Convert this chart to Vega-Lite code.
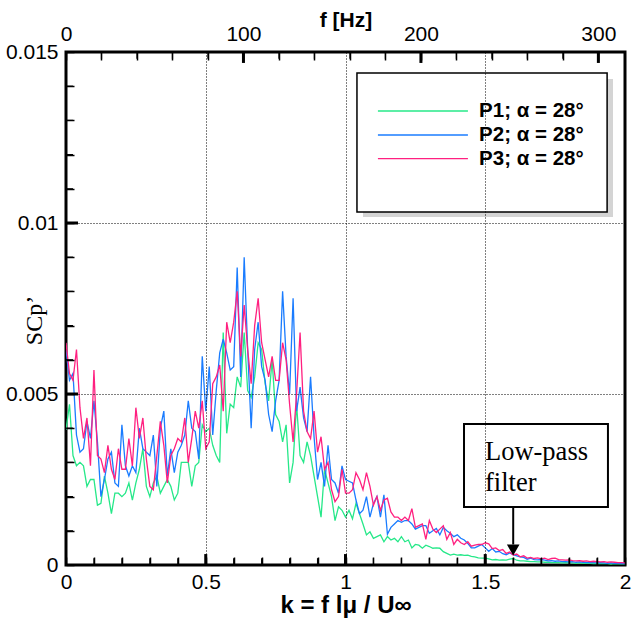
{
"$schema": "https://vega.github.io/schema/vega-lite/v6.json",
"width": 559, "height": 513,
"autosize": {"type": "none"},
"padding": {"left": 66, "top": 52, "right": 7, "bottom": 65},
"background": "white",
"config": {"view": {"stroke": "black", "strokeWidth": 3}, "font": "Liberation Sans",
  "axis": {"labelFont": "Liberation Sans", "labelFontSize": 21, "labelColor": "black", "domainColor": "black", "titleColor": "black", "labelFlush": false, "labelOverlap": false}},
"datasets": {
"spec": [
{"k":0,"P1":0.00395,"P2":0.0063,"P3":0.0065},
{"k":0.0125,"P1":0.0047,"P2":0.0054,"P3":0.0056},
{"k":0.025,"P1":0.0032,"P2":0.0056,"P3":0.0054},
{"k":0.0375,"P1":0.0029,"P2":0.0038,"P3":0.0063},
{"k":0.05,"P1":0.003,"P2":0.0033,"P3":0.0046},
{"k":0.0625,"P1":0.0029,"P2":0.0034,"P3":0.0037},
{"k":0.075,"P1":0.0023,"P2":0.0042,"P3":0.0043},
{"k":0.0875,"P1":0.0025,"P2":0.0037,"P3":0.0029},
{"k":0.1,"P1":0.0025,"P2":0.0048,"P3":0.0057},
{"k":0.1125,"P1":0.00175,"P2":0.0036,"P3":0.0032},
{"k":0.125,"P1":0.0018,"P2":0.002,"P3":0.0031},
{"k":0.1375,"P1":0.0026,"P2":0.0025,"P3":0.0027},
{"k":0.15,"P1":0.0021,"P2":0.0031,"P3":0.0035},
{"k":0.1625,"P1":0.0015,"P2":0.0033,"P3":0.0028},
{"k":0.175,"P1":0.0021,"P2":0.0024,"P3":0.0025},
{"k":0.1875,"P1":0.0021,"P2":0.0023,"P3":0.0034},
{"k":0.2,"P1":0.002,"P2":0.0041,"P3":0.0028},
{"k":0.2125,"P1":0.0021,"P2":0.0029,"P3":0.0028},
{"k":0.225,"P1":0.0024,"P2":0.0026,"P3":0.0037},
{"k":0.2375,"P1":0.0019,"P2":0.0029,"P3":0.0029},
{"k":0.25,"P1":0.0024,"P2":0.0027,"P3":0.0046},
{"k":0.2625,"P1":0.0028,"P2":0.004,"P3":0.0037},
{"k":0.275,"P1":0.0034,"P2":0.0034,"P3":0.0043},
{"k":0.2875,"P1":0.0023,"P2":0.0033,"P3":0.0031},
{"k":0.3,"P1":0.002,"P2":0.0032,"P3":0.0023},
{"k":0.3125,"P1":0.0024,"P2":0.0038,"P3":0.0022},
{"k":0.325,"P1":0.0026,"P2":0.0023,"P3":0.0032},
{"k":0.3375,"P1":0.0021,"P2":0.004,"P3":0.0042},
{"k":0.35,"P1":0.0023,"P2":0.0045,"P3":0.0035},
{"k":0.3625,"P1":0.0025,"P2":0.0026,"P3":0.0024},
{"k":0.375,"P1":0.0023,"P2":0.0034,"P3":0.0032},
{"k":0.3875,"P1":0.0019,"P2":0.0027,"P3":0.0034},
{"k":0.4,"P1":0.0021,"P2":0.0033,"P3":0.0037},
{"k":0.4125,"P1":0.003,"P2":0.0035,"P3":0.0036},
{"k":0.425,"P1":0.003,"P2":0.0038,"P3":0.0043},
{"k":0.4375,"P1":0.003,"P2":0.0048,"P3":0.003},
{"k":0.45,"P1":0.0023,"P2":0.004,"P3":0.0037},
{"k":0.4625,"P1":0.0029,"P2":0.0039,"P3":0.0045},
{"k":0.475,"P1":0.003,"P2":0.0031,"P3":0.004},
{"k":0.4875,"P1":0.0041,"P2":0.0061,"P3":0.0048},
{"k":0.5,"P1":0.0039,"P2":0.0045,"P3":0.0034},
{"k":0.5125,"P1":0.004,"P2":0.0058,"P3":0.0036},
{"k":0.525,"P1":0.0035,"P2":0.0038,"P3":0.0053},
{"k":0.5375,"P1":0.0032,"P2":0.0051,"P3":0.0055},
{"k":0.55,"P1":0.003,"P2":0.0062,"P3":0.00585},
{"k":0.5625,"P1":0.0068,"P2":0.0066,"P3":0.0045},
{"k":0.575,"P1":0.00385,"P2":0.0062,"P3":0.0071},
{"k":0.5875,"P1":0.0047,"P2":0.0057,"P3":0.0065},
{"k":0.6,"P1":0.0046,"P2":0.0058,"P3":0.0071},
{"k":0.6125,"P1":0.0055,"P2":0.0087,"P3":0.008},
{"k":0.625,"P1":0.0052,"P2":0.0055,"P3":0.0061},
{"k":0.6375,"P1":0.0068,"P2":0.009,"P3":0.0076},
{"k":0.65,"P1":0.0051,"P2":0.0063,"P3":0.0063},
{"k":0.6625,"P1":0.0049,"P2":0.004,"P3":0.0053},
{"k":0.675,"P1":0.0055,"P2":0.0063,"P3":0.007},
{"k":0.6875,"P1":0.0065,"P2":0.0071,"P3":0.0078},
{"k":0.7,"P1":0.0063,"P2":0.0058,"P3":0.0065},
{"k":0.7125,"P1":0.0053,"P2":0.0054,"P3":0.006},
{"k":0.725,"P1":0.0048,"P2":0.0044,"P3":0.0055},
{"k":0.7375,"P1":0.006,"P2":0.0039,"P3":0.0061},
{"k":0.75,"P1":0.0044,"P2":0.0048,"P3":0.0054},
{"k":0.7625,"P1":0.0042,"P2":0.0054,"P3":0.0054},
{"k":0.775,"P1":0.0036,"P2":0.008,"P3":0.0065},
{"k":0.7875,"P1":0.0041,"P2":0.0061,"P3":0.006},
{"k":0.8,"P1":0.0024,"P2":0.005,"P3":0.0047},
{"k":0.8125,"P1":0.003,"P2":0.0078,"P3":0.0036},
{"k":0.825,"P1":0.0047,"P2":0.0045,"P3":0.005},
{"k":0.8375,"P1":0.0032,"P2":0.0052,"P3":0.0068},
{"k":0.85,"P1":0.003,"P2":0.0043,"P3":0.0045},
{"k":0.8625,"P1":0.0036,"P2":0.0039,"P3":0.0039},
{"k":0.875,"P1":0.0032,"P2":0.0055,"P3":0.0037},
{"k":0.8875,"P1":0.0026,"P2":0.00375,"P3":0.0045},
{"k":0.9,"P1":0.002,"P2":0.0025,"P3":0.0033},
{"k":0.9125,"P1":0.0014,"P2":0.003,"P3":0.00375},
{"k":0.925,"P1":0.0028,"P2":0.0023,"P3":0.0028},
{"k":0.9375,"P1":0.0024,"P2":0.0035,"P3":0.003},
{"k":0.95,"P1":0.002,"P2":0.0025,"P3":0.0022},
{"k":0.9625,"P1":0.0013,"P2":0.0024,"P3":0.00185},
{"k":0.975,"P1":0.0017,"P2":0.0021,"P3":0.002},
{"k":0.9875,"P1":0.0016,"P2":0.0029,"P3":0.0028},
{"k":1,"P1":0.0014,"P2":0.0025,"P3":0.0021},
{"k":1.0125,"P1":0.0016,"P2":0.00245,"P3":0.0021},
{"k":1.025,"P1":0.00135,"P2":0.0024,"P3":0.0022},
{"k":1.0375,"P1":0.0018,"P2":0.0019,"P3":0.0027},
{"k":1.05,"P1":0.0015,"P2":0.0015,"P3":0.0025},
{"k":1.0625,"P1":0.0012,"P2":0.0016,"P3":0.0022},
{"k":1.075,"P1":0.00088,"P2":0.002,"P3":0.0027},
{"k":1.0875,"P1":0.00097,"P2":0.0014,"P3":0.0023},
{"k":1.1,"P1":0.00078,"P2":0.0018,"P3":0.00175},
{"k":1.1125,"P1":0.00083,"P2":0.002,"P3":0.002},
{"k":1.125,"P1":0.00088,"P2":0.0014,"P3":0.0016},
{"k":1.1375,"P1":0.00068,"P2":0.00205,"P3":0.0019},
{"k":1.15,"P1":0.00083,"P2":0.0009,"P3":0.00195},
{"k":1.1625,"P1":0.00073,"P2":0.0011,"P3":0.00155},
{"k":1.175,"P1":0.00078,"P2":0.0012,"P3":0.0014},
{"k":1.1875,"P1":0.00068,"P2":0.0013,"P3":0.0014},
{"k":1.2,"P1":0.00083,"P2":0.00125,"P3":0.0013},
{"k":1.2125,"P1":0.00068,"P2":0.0013,"P3":0.0014},
{"k":1.225,"P1":0.00073,"P2":0.0013,"P3":0.0013},
{"k":1.2375,"P1":0.0005,"P2":0.0012,"P3":0.00165},
{"k":1.25,"P1":0.0006,"P2":0.00105,"P3":0.0011},
{"k":1.2625,"P1":0.00058,"P2":0.0011,"P3":0.00115},
{"k":1.275,"P1":0.00049,"P2":0.00115,"P3":0.0012},
{"k":1.2875,"P1":0.00058,"P2":0.00115,"P3":0.00075},
{"k":1.3,"P1":0.00054,"P2":0.00093,"P3":0.0013},
{"k":1.3125,"P1":0.00049,"P2":0.001,"P3":0.00105},
{"k":1.325,"P1":0.0005,"P2":0.00107,"P3":0.00095},
{"k":1.3375,"P1":0.00049,"P2":0.00088,"P3":0.00105},
{"k":1.35,"P1":0.00039,"P2":0.0011,"P3":0.00115},
{"k":1.3625,"P1":0.00034,"P2":0.001,"P3":0.00075},
{"k":1.375,"P1":0.00029,"P2":0.00093,"P3":0.00095},
{"k":1.3875,"P1":0.00032,"P2":0.00083,"P3":0.0006},
{"k":1.4,"P1":0.00029,"P2":0.00088,"P3":0.00075},
{"k":1.4125,"P1":0.0003,"P2":0.00078,"P3":0.00065},
{"k":1.425,"P1":0.00028,"P2":0.00073,"P3":0.0006},
{"k":1.4375,"P1":0.00029,"P2":0.00063,"P3":0.00068},
{"k":1.45,"P1":0.00025,"P2":0.0005,"P3":0.00055},
{"k":1.4625,"P1":0.00024,"P2":0.0005,"P3":0.00058},
{"k":1.475,"P1":0.00021,"P2":0.00055,"P3":0.0006},
{"k":1.4875,"P1":0.0002,"P2":0.0006,"P3":0.0006},
{"k":1.5,"P1":0.0002,"P2":0.0005,"P3":0.00065},
{"k":1.5125,"P1":0.00018,"P2":0.0004,"P3":0.00062},
{"k":1.525,"P1":0.00015,"P2":0.00048,"P3":0.00048},
{"k":1.5375,"P1":0.00016,"P2":0.00038,"P3":0.0005},
{"k":1.55,"P1":0.00014,"P2":0.0004,"P3":0.00042},
{"k":1.5625,"P1":0.00015,"P2":0.00033,"P3":0.00045},
{"k":1.575,"P1":0.00014,"P2":0.0003,"P3":0.00034},
{"k":1.5875,"P1":0.00017,"P2":0.00035,"P3":0.00038},
{"k":1.6,"P1":0.00019,"P2":0.0003,"P3":0.00029},
{"k":1.6125,"P1":0.00014,"P2":0.00027,"P3":0.00032},
{"k":1.625,"P1":0.00012,"P2":0.00024,"P3":0.00024},
{"k":1.6375,"P1":0.00012,"P2":0.00022,"P3":0.00027},
{"k":1.65,"P1":0.00011,"P2":0.00017,"P3":0.0002},
{"k":1.6625,"P1":0.0001,"P2":0.0002,"P3":0.00022},
{"k":1.675,"P1":0.0001,"P2":0.00016,"P3":0.00019},
{"k":1.6875,"P1":0.00009,"P2":0.00015,"P3":0.00021},
{"k":1.7,"P1":0.00009,"P2":0.00016,"P3":0.00018},
{"k":1.7125,"P1":0.00008,"P2":0.00014,"P3":0.0002},
{"k":1.725,"P1":0.00008,"P2":0.00012,"P3":0.00016},
{"k":1.7375,"P1":0.00007,"P2":0.00013,"P3":0.00019},
{"k":1.75,"P1":0.00007,"P2":0.00011,"P3":0.0002},
{"k":1.7625,"P1":0.00007,"P2":0.00012,"P3":0.00016},
{"k":1.775,"P1":0.00006,"P2":0.0001,"P3":0.00015},
{"k":1.7875,"P1":0.00007,"P2":0.0001,"P3":0.00014},
{"k":1.8,"P1":0.00006,"P2":0.00009,"P3":0.00015},
{"k":1.8125,"P1":0.00006,"P2":0.0001,"P3":0.00013},
{"k":1.825,"P1":0.00005,"P2":0.00008,"P3":0.00012},
{"k":1.8375,"P1":0.00006,"P2":0.00009,"P3":0.00013},
{"k":1.85,"P1":0.00005,"P2":0.00008,"P3":0.00011},
{"k":1.8625,"P1":0.00005,"P2":0.00007,"P3":0.00012},
{"k":1.875,"P1":0.00005,"P2":0.00008,"P3":0.0001},
{"k":1.8875,"P1":0.00004,"P2":0.00007,"P3":0.00011},
{"k":1.9,"P1":0.00005,"P2":0.00006,"P3":0.0001},
{"k":1.9125,"P1":0.00004,"P2":0.00007,"P3":0.00009},
{"k":1.925,"P1":0.00004,"P2":0.00006,"P3":0.0001},
{"k":1.9375,"P1":0.00004,"P2":0.00005,"P3":0.00008},
{"k":1.95,"P1":0.00003,"P2":0.00006,"P3":0.00009},
{"k":1.9625,"P1":0.00004,"P2":0.00005,"P3":0.00008},
{"k":1.975,"P1":0.00003,"P2":0.00005,"P3":0.00007},
{"k":1.9875,"P1":0.00003,"P2":0.00004,"P3":0.00007},
{"k":2,"P1":0.00003,"P2":0.00004,"P3":0.00006}
],
"legendRows": [
{"series":"P1","x":1.116,"x2":1.438,"y":0.013275,"tx":1.478,"label":"P1; α = 28°"},
{"series":"P2","x":1.116,"x2":1.438,"y":0.012573,"tx":1.478,"label":"P2; α = 28°"},
{"series":"P3","x":1.116,"x2":1.438,"y":0.01188,"tx":1.478,"label":"P3; α = 28°"}
],
"kMinor": [{"t":0.1},{"t":0.2},{"t":0.3},{"t":0.4},{"t":0.6},{"t":0.7},{"t":0.8},{"t":0.9},{"t":1.1},{"t":1.2},{"t":1.3},{"t":1.4},{"t":1.6},{"t":1.7},{"t":1.8},{"t":1.9}],
"kMajor": [{"t":0.5},{"t":1},{"t":1.5}],
"sMinor": [{"t":0.001},{"t":0.002},{"t":0.003},{"t":0.004},{"t":0.006},{"t":0.007},{"t":0.008},{"t":0.009},{"t":0.011},{"t":0.012},{"t":0.013},{"t":0.014}],
"sMajor": [{"t":0.005},{"t":0.01}],
"fMinor": [{"f":20},{"f":40},{"f":60},{"f":80},{"f":120},{"f":140},{"f":160},{"f":180},{"f":220},{"f":240},{"f":260},{"f":280}],
"fMajor": [{"f":100},{"f":200},{"f":300}]
},
"layer": [
{"layer": [
  {"data": {"name": "spec"},
   "transform": [{"fold": ["P1","P2","P3"], "as": ["series","value"]}],
   "mark": {"type": "line", "strokeWidth": 1.3, "clip": true},
   "encoding": {
     "x": {"field": "k", "type": "quantitative", "scale": {"domain": [0,2], "nice": false, "zero": false},
       "axis": {"orient": "bottom", "zindex": 1, "offset": -8, "domain": false,
         "tickCount": 20, "ticks": true, "tickColor": "black", "tickOpacity": 1,
         "format": ".4~f",
         "labelExpr": "round(datum.value*10) % 5 == 0 ? datum.label : ''",
         "labelPadding": 6,
         "tickSize": 8,
         "tickWidth": 1.5,
         "grid": true, "gridColor": "black", "gridDash": [1,2], "gridWidth": 1,
         "gridOpacity": {"condition": {"test": "datum.value>0.01 && datum.value<1.99 && round(datum.value*10) % 5 == 0", "value": 1}, "value": 0},
         "title": "k = f lμ / U∞", "titleFont": "Liberation Sans", "titleFontSize": 24, "titleFontWeight": "bold", "titlePadding": 1}},
     "y": {"field": "value", "type": "quantitative", "scale": {"domain": [0,0.015], "nice": false},
       "axis": {"orient": "left", "zindex": 1, "offset": -8, "domain": false,
         "tickCount": 15, "ticks": true, "tickColor": "black", "tickOpacity": 1,
         "format": ".4~f",
         "labelExpr": "round(datum.value*1000) % 5 == 0 ? datum.label : ''",
         "labelPadding": 8,
         "tickSize": 8,
         "tickWidth": 1.5,
         "grid": true, "gridColor": "black", "gridDash": [1,2], "gridWidth": 1,
         "gridOpacity": {"condition": {"test": "datum.value>0.0001 && datum.value<0.0149 && round(datum.value*1000) % 5 == 0", "value": 1}, "value": 0},
         "title": "SCp’", "titleFont": "Liberation Serif", "titleFontSize": 24, "titleFontWeight": "normal",
         "titleX": -40, "titleY": 268, "titleAngle": -90, "titleAlign": "center", "titleBaseline": "middle"}},
     "color": {"field": "series", "type": "nominal", "scale": {"domain": ["P1","P2","P3"], "range": ["#26e889","#1a7cff","#ff2080"]}, "legend": null}
   }},
  {"data": {"name": "kMinor"},
   "mark": {"type": "rule", "color": "black", "strokeWidth": 1.2},
   "encoding": {"x": {"field": "t", "type": "quantitative"}, "y": {"datum": 0}, "y2": {"datum": 0.0002}}},
  {"data": {"name": "kMajor"},
   "mark": {"type": "rule", "color": "black", "strokeWidth": 3},
   "encoding": {"x": {"field": "t", "type": "quantitative"}, "y": {"datum": 0}, "y2": {"datum": 0.00032}}},
  {"data": {"name": "sMinor"},
   "mark": {"type": "rule", "color": "black", "strokeWidth": 1.2},
   "encoding": {"y": {"field": "t", "type": "quantitative"}, "x": {"datum": 0}, "x2": {"datum": 0.025}}},
  {"data": {"name": "sMajor"},
   "mark": {"type": "rule", "color": "black", "strokeWidth": 3},
   "encoding": {"y": {"field": "t", "type": "quantitative"}, "x": {"datum": 0}, "x2": {"datum": 0.043}}},
  {"data": {"values": [{"x":1.0626,"x2":1.957,"y":0.014211,"y2":0.010175}]},
   "mark": {"type": "rect", "fill": "#d4d4d4"},
   "encoding": {"x": {"field": "x", "type": "quantitative"}, "x2": {"field": "x2"}, "y": {"field": "y", "type": "quantitative"}, "y2": {"field": "y2"}}},
  {"data": {"values": [{"x":1.041,"x2":1.936,"y":0.014386,"y2":0.010322}]},
   "mark": {"type": "rect", "fill": "white", "stroke": "black", "strokeWidth": 1.5},
   "encoding": {"x": {"field": "x", "type": "quantitative"}, "x2": {"field": "x2"}, "y": {"field": "y", "type": "quantitative"}, "y2": {"field": "y2"}}},
  {"data": {"name": "legendRows"},
   "mark": {"type": "rule", "strokeWidth": 1.3},
   "encoding": {"x": {"field": "x", "type": "quantitative"}, "x2": {"field": "x2"}, "y": {"field": "y", "type": "quantitative"},
     "color": {"field": "series", "type": "nominal", "legend": null}}},
  {"data": {"name": "legendRows"},
   "mark": {"type": "text", "align": "left", "baseline": "middle", "font": "Liberation Sans", "fontWeight": "bold", "fontSize": 20.5, "color": "black"},
   "encoding": {"x": {"field": "tx", "type": "quantitative"}, "y": {"field": "y", "type": "quantitative"}, "text": {"field": "label"}}},
  {"data": {"values": [{"x":1.424,"x2":1.939,"y":0.004123,"y2":0.001696}]},
   "mark": {"type": "rect", "fill": "white", "stroke": "black", "strokeWidth": 2},
   "encoding": {"x": {"field": "x", "type": "quantitative"}, "x2": {"field": "x2"}, "y": {"field": "y", "type": "quantitative"}, "y2": {"field": "y2"}}},
  {"data": {"values": [{"x":1.499,"y":0.0033,"t":"Low-pass"},{"x":1.499,"y":0.0024,"t":"filter"}]},
   "mark": {"type": "text", "align": "left", "baseline": "middle", "font": "Liberation Serif", "fontSize": 26.5, "color": "black"},
   "encoding": {"x": {"field": "x", "type": "quantitative"}, "y": {"field": "y", "type": "quantitative"}, "text": {"field": "t"}}},
  {"data": {"values": [{"x":1.6,"y":0.001696,"y2":0.0006}]},
   "mark": {"type": "rule", "strokeWidth": 2, "color": "black"},
   "encoding": {"x": {"field": "x", "type": "quantitative"}, "y": {"field": "y", "type": "quantitative"}, "y2": {"field": "y2"}}},
  {"data": {"values": [{"x":1.6,"y":0.00044}]},
   "mark": {"type": "point", "shape": "triangle-down", "filled": true, "color": "black", "size": 160, "opacity": 1},
   "encoding": {"x": {"field": "x", "type": "quantitative"}, "y": {"field": "y", "type": "quantitative"}}}
]},
{"layer": [
  {"data": {"name": "fMinor"},
   "mark": {"type": "rule", "color": "black", "strokeWidth": 1.2},
   "encoding": {"x": {"field": "f", "type": "quantitative", "scale": {"domain": [0,315], "nice": false, "zero": false},
     "axis": {"orient": "top", "zindex": 1, "offset": -8, "domain": false,
       "tickCount": 16, "ticks": true, "tickColor": "black", "tickOpacity": 1,
       "format": "d",
       "labelExpr": "datum.value % 100 == 0 ? datum.label : ''",
       "labelPadding": 8,
       "tickSize": 8,
       "tickWidth": 1.5,
       "grid": false,
       "title": "f [Hz]", "titleFont": "Liberation Sans", "titleFontSize": 21, "titleFontWeight": "bold",
       "titleY": -40, "titleBaseline": "middle"}},
     "y": {"datum": 0.015}, "y2": {"datum": 0.0148}}},
  {"data": {"name": "fMajor"},
   "mark": {"type": "rule", "color": "black", "strokeWidth": 3},
   "encoding": {"x": {"field": "f", "type": "quantitative"}, "y": {"datum": 0.015}, "y2": {"datum": 0.01468}}}
]}
],
"resolve": {"scale": {"x": "independent"}}
}
